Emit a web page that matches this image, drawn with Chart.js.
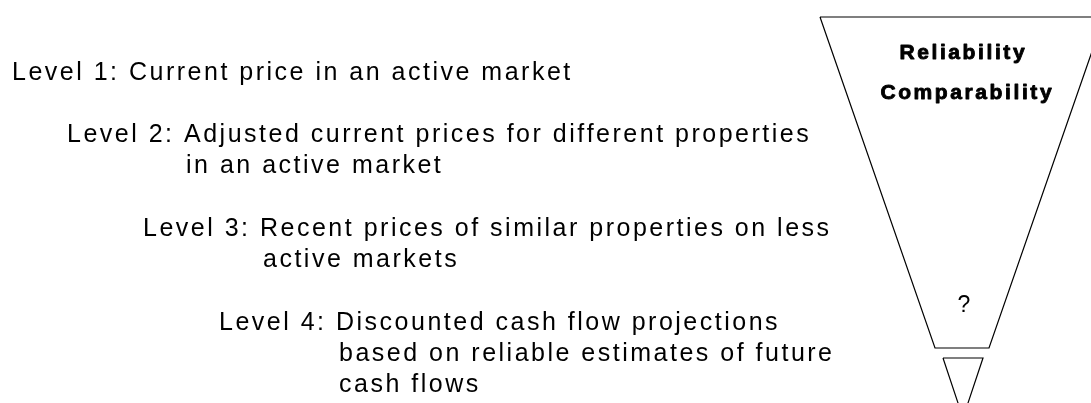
<!DOCTYPE html>
<html>
<head>
<meta charset="utf-8">
<script src="https://cdn.jsdelivr.net/npm/chart.js@4/dist/chart.umd.min.js"></script>
<style>
  html, body { margin: 0; padding: 0; background: #fff; }
  #grafica { display: block; }
</style>
</head>
<body>
<canvas id="grafica" width="1091" height="403"></canvas>
<script>
// ─────────────────────────────────────────
// DATOS
// ─────────────────────────────────────────

// textos de los niveles (una entrada por renglón)
const nivelTextos = [
  "Level 1: Current price in an active market",
  "Level 2: Adjusted current prices for different properties",
  "in an active market",
  "Level 3: Recent prices of similar properties on less",
  "active markets",
  "Level 4: Discounted cash flow projections",
  "based on reliable estimates of future",
  "cash flows"
];
// anclas de cada renglón (unidades del diagrama)
const nivelX = [12, 67, 186, 143, 263, 219, 339, 339];
const nivelY = [80, 142, 173, 236, 267, 330, 361, 392];

// embudo grande y punta
const embudoX = [820, 1104, 989, 935, 820];
const embudoY = [17, 17, 348, 348, 17];
const puntaX  = [943, 983, 963, 943];
const puntaY  = [358, 358, 418, 358];

// rótulos dentro del embudo
const embudoTextos = ["Reliability", "Comparability", "?"];
const embudoTextoX = [962, 966, 964];
const embudoTextoY = [59, 99, 312];

// ─────────────────────────────────────────
// TEXTO ESPACIADO
// ─────────────────────────────────────────

const FUENTE = "'Liberation Sans', Arial, sans-serif";

function anchoEspaciado(ctx, txt, esp) {
  let w = 0;
  for (const ch of txt) w += ctx.measureText(ch).width + esp;
  return w - esp;
}

function dibujarEspaciado(ctx, txt, x, y, esp, grosor) {
  for (const ch of txt) {
    ctx.fillText(ch, x, y);
    if (grosor) ctx.strokeText(ch, x, y);   // engrosar la negrita
    x += ctx.measureText(ch).width + esp;
  }
}

const textoPlugin = {
  id: "textos",
  afterDatasetsDraw(chart) {
    const { ctx, scales: { x, y } } = chart;
    ctx.save();
    ctx.fillStyle = "#000";
    ctx.strokeStyle = "#000";
    ctx.lineJoin = "round";
    ctx.textBaseline = "alphabetic";
    ctx.textAlign = "left";

    ctx.font = "25px " + FUENTE;
    nivelTextos.forEach((t, i) => {
      dibujarEspaciado(ctx, t, x.getPixelForValue(nivelX[i]), y.getPixelForValue(nivelY[i]), 2.5, false);
    });

    embudoTextos.forEach((t, i) => {
      const esNegrita = t !== "?";
      ctx.font = esNegrita ? "bold 21px " + FUENTE : "23px " + FUENTE;
      ctx.lineWidth = 0.9;
      const esp = esNegrita ? 2.6 : 0;
      const w = anchoEspaciado(ctx, t, esp);
      dibujarEspaciado(ctx, t, x.getPixelForValue(embudoTextoX[i]) - w / 2, y.getPixelForValue(embudoTextoY[i]), esp, esNegrita);
    });
    ctx.restore();
  }
};

// ─────────────────────────────────────────
// GRÁFICA
// ─────────────────────────────────────────

const puntos = (xs, ys) => xs.map((v, i) => ({ x: v, y: ys[i] }));

const linea = {
  showLine: true,
  borderColor: "#000",
  borderWidth: 1.2,
  pointRadius: 0,
  fill: false,
  tension: 0,
  clip: false
};

new Chart(document.getElementById("grafica"), {
  type: "scatter",
  data: {
    datasets: [
      { ...linea, data: puntos(embudoX, embudoY) },
      { ...linea, data: puntos(puntaX, puntaY) }
    ]
  },
  options: {
    responsive: false,
    animation: false,
    events: [],
    layout: { padding: 0 },
    plugins: {
      legend: { display: false },
      tooltip: { enabled: false }
    },
    scales: {
      x: { type: "linear", min: 0, max: 1091, display: false },
      y: { type: "linear", min: 0, max: 403, reverse: true, display: false }
    }
  },
  plugins: [textoPlugin]
});
</script>
</body>
</html>
